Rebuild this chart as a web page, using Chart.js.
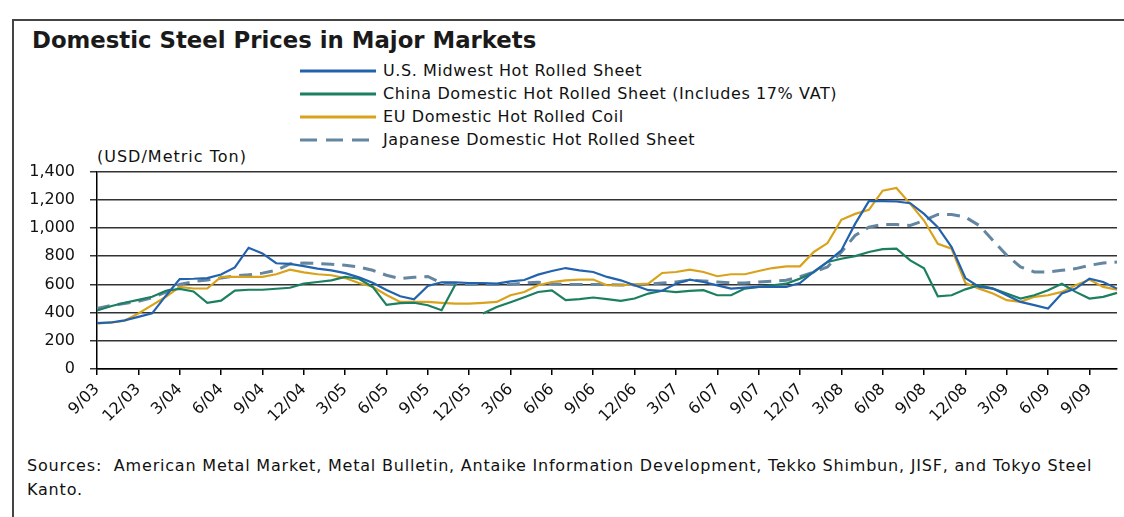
<!DOCTYPE html>
<html>
<head>
<meta charset="utf-8">
<title>Domestic Steel Prices in Major Markets</title>
<script src="https://cdn.jsdelivr.net/npm/chart.js@4.4.1/dist/chart.umd.min.js"></script>
<style>
  body { margin: 0; width: 1124px; height: 517px; background: #fff; position: relative; overflow: hidden;
         font-family: "DejaVu Sans", sans-serif; color: #111; }
  #frame { position: absolute; left: 12px; top: 19px; right: -4px; bottom: -4px;
           border-left: 2px solid #444; border-top: 2px solid #444; }
  #title { position: absolute; left: 32px; top: 27px; font: bold 22.8px "DejaVu Sans", sans-serif; color: #1a1a1a; }
  #legend { position: absolute; left: 300px; top: 59px; }
  .item { height: 23px; display: flex; align-items: center; font-size: 16px; letter-spacing: 0.6px; }
  .item svg { margin-right: 7px; }
  #unit { position: absolute; left: 97px; top: 147px; font-size: 16px; letter-spacing: 1px; }
  #wrap { position: absolute; left: 0; top: 147px; width: 1124px; height: 293px; }
  #sources { position: absolute; left: 27px; top: 454px; width: 1095px; font-size: 16px; line-height: 24px; letter-spacing: 0.8px; }
</style>
</head>
<body>
<div id="frame"></div>
<div id="title">Domestic Steel Prices in Major Markets</div>
<div id="legend"></div>
<div id="unit">(USD/Metric Ton)</div>
<div id="wrap"><canvas id="chart" width="1124" height="293"></canvas></div>
<div id="sources">Sources:&nbsp; American Metal Market, Metal Bulletin, Antaike Information Development, Tekko Shimbun, JISF, and Tokyo Steel Kanto.</div>

<script>
// monthly, 9/03 .. 11/09
const months = [
  '9/03', '10/03', '11/03', '12/03',
  '1/04', '2/04', '3/04', '4/04', '5/04', '6/04', '7/04', '8/04', '9/04', '10/04', '11/04', '12/04',
  '1/05', '2/05', '3/05', '4/05', '5/05', '6/05', '7/05', '8/05', '9/05', '10/05', '11/05', '12/05',
  '1/06', '2/06', '3/06', '4/06', '5/06', '6/06', '7/06', '8/06', '9/06', '10/06', '11/06', '12/06',
  '1/07', '2/07', '3/07', '4/07', '5/07', '6/07', '7/07', '8/07', '9/07', '10/07', '11/07', '12/07',
  '1/08', '2/08', '3/08', '4/08', '5/08', '6/08', '7/08', '8/08', '9/08', '10/08', '11/08', '12/08',
  '1/09', '2/09', '3/09', '4/09', '5/09', '6/09', '7/09', '8/09', '9/09', '10/09', '11/09'
];

const usMidwest = [
  325, 330, 345, 370, 395, 520, 638, 640, 645, 670, 720,
  860, 820, 750, 745, 730, 712, 700, 680, 650, 612,
  560, 516, 495, 589, 615, 615, 610, 610, 605, 622, 631,
  669, 695, 716, 700, 688, 653, 629, 594, 559, 555, 605,
  634, 617, 593, 570, 577, 582, 582, 582, 610, 690,
  760, 841, 1029, 1190, 1190, 1188, 1176, 1100, 1006, 865, 645,
  582, 570, 523, 476, 453, 429, 535, 570, 641, 617, 570
];

const chinaDomestic = [
  415, 445, 470, 490, 512, 555, 568, 550, 470, 485, 556,
  562, 562, 569, 576, 605, 617, 629, 653, 640, 582,
  455, 467, 470, 452, 417, 600, null, 394, 440, 474, 509,
  546, 558, 488, 495, 507, 495, 483, 500, 535, 555, 545,
  554, 559, 523, 523, 570, 582, 594, 605, 641, 685,
  759, 782, 801, 830, 850, 853, 770, 715, 516, 523, 565,
  594, 570, 535, 500, 523, 559, 605, 547, 500, 512, 540
];

const euCoil = [
  323, 328, 342, 394, 453, 512, 583, 571, 571, 653, 653,
  653, 653, 672, 705, 685, 672, 665, 645, 610, 583,
  525, 476, 476, 476, 469, 464, 464, 469, 476, 523, 546,
  594, 617, 629, 634, 634, 594, 594, 601, 605, 681, 688,
  705, 688, 658, 672, 672, 695, 716, 728, 728, 830,
  893, 1058, 1100, 1129, 1265, 1284, 1171, 1053, 888, 853, 610,
  570, 535, 488, 476, 512, 523, 547, 594, 634, 582, 563
];

const japanDomestic = [
  430, 450, 465, 480, 505, 545, 600, 620, 632, 645, 660,
  668, 680, 700, 745, 752, 748, 743, 736, 724, 700,
  665, 641, 650, 656, 610, 600, 600, 600, 600, 600, 610,
  615, 605, 600, 600, 600, 598, 595, 595, 600, 610, 617,
  629, 625, 617, 610, 610, 617, 622, 629, 655, 688,
  724, 829, 947, 1006, 1025, 1025, 1018, 1053, 1096, 1096, 1077,
  1018, 912, 806, 724, 688, 688, 700, 712, 735, 752, 759
];

const seriesNames = [
  'U.S. Midwest Hot Rolled Sheet',
  'China Domestic Hot Rolled Sheet (Includes 17% VAT)',
  'EU Domestic Hot Rolled Coil',
  'Japanese Domestic Hot Rolled Sheet'
];

const yTicks = [0, 200, 400, 600, 800, 1000, 1200, 1400];

const datasets = [
  { label: seriesNames[0], data: usMidwest, borderColor: '#2362ad', borderWidth: 2.2 },
  { label: seriesNames[1], data: chinaDomestic, borderColor: '#1b7f60', borderWidth: 2.2, spanGaps: false },
  { label: seriesNames[2], data: euCoil, borderColor: '#d9a21c', borderWidth: 2.2 },
  { label: seriesNames[3], data: japanDomestic, borderColor: '#6486a0', borderWidth: 3, borderDash: [13, 8] }
];

// html legend, one row per series
const legend = document.getElementById('legend');
datasets.forEach(ds => {
  const row = document.createElement('div');
  row.className = 'item';
  const dash = ds.borderDash ? `stroke-dasharray="17 9"` : '';
  row.innerHTML = `<svg width="76" height="6"><line x1="0" y1="3" x2="76" y2="3" stroke="${ds.borderColor}" stroke-width="3" ${dash}/></svg>${ds.label}`;
  legend.appendChild(row);
});

new Chart(document.getElementById('chart'), {
  type: 'line',
  data: { labels: months, datasets: datasets },
  options: {
    responsive: false,
    animation: false,
    layout: { padding: { top: 11, right: 7, left: 0, bottom: 0 } },
    plugins: { legend: { display: false }, tooltip: { enabled: false } },
    elements: { point: { radius: 0 }, line: { tension: 0, fill: false } },
    scales: {
      x: {
        offset: false,
        grid: { drawOnChartArea: false, color: '#000', tickLength: 6, lineWidth: 1.5 },
        border: { color: '#000', width: 1.5 },
        ticks: {
          autoSkip: false, minRotation: 45, maxRotation: 45, padding: 5, color: '#111',
          font: { family: 'DejaVu Sans', size: 16 },
          callback: function (v, i) { return i % 3 === 0 ? this.getLabelForValue(v) : null; }
        },
        afterFit: s => { s.height = 71; }
      },
      y: {
        min: yTicks[0],
        max: yTicks[yTicks.length - 1],
        afterBuildTicks: s => { s.ticks = yTicks.map(v => ({ value: v })); },
        grid: { color: '#333', lineWidth: 1.5, tickLength: 7 },
        border: { color: '#000', width: 1.5 },
        ticks: {
          padding: 15, color: '#111',
          font: { family: 'DejaVu Sans', size: 16 },
          callback: v => v.toLocaleString('en-US')
        },
        afterFit: s => { s.width = 97; }
      }
    }
  }
});
</script>
</body>
</html>
